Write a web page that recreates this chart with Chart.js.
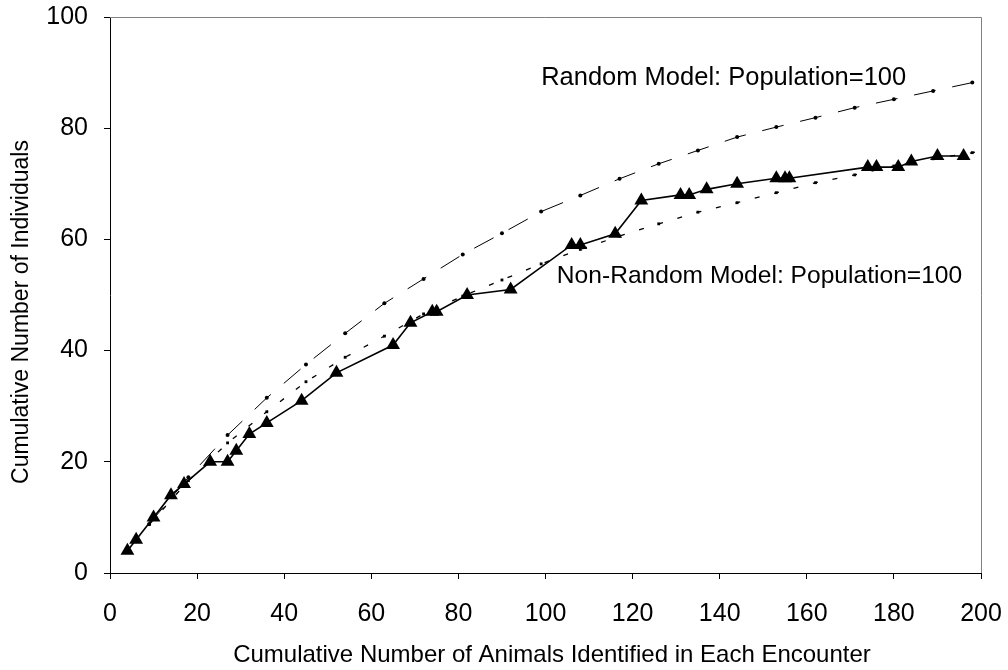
<!DOCTYPE html>
<html>
<head>
<meta charset="utf-8">
<script src="https://cdn.jsdelivr.net/npm/chart.js@4"></script>
<style>
	html, body { margin: 0; padding: 0; background: #fff; }
	#wrap { width: 1008px; height: 670px; }
</style>
</head>
<body>
<div id="wrap"><canvas id="chart"></canvas></div>
<script>
// observed encounters (triangles)
const observedX = [4, 6, 10, 14, 17, 23, 27, 29, 32, 36, 44, 52, 65, 69, 74, 75, 82, 92, 106, 108, 116, 122, 131, 133, 137, 144, 153, 155, 156, 174, 176, 181, 184, 190, 196];
const observedY = [4, 6, 10, 14, 16, 20, 20, 22, 25, 27, 31, 36, 41, 45, 47, 47, 50, 51, 59, 59, 61, 67, 68, 68, 69, 70, 71, 71, 71, 73, 73, 73, 74, 75, 75];

// model curves
const modelX = [9, 18, 27, 36, 45, 54, 63, 72, 81, 90, 99, 108, 117, 126, 135, 144, 153, 162, 171, 180, 189, 198, 207];
const randomY = [8.8, 17.2, 24.8, 31.5, 37.5, 43.1, 48.5, 52.9, 57.3, 61.1, 65.0, 67.9, 70.9, 73.6, 76.0, 78.4, 80.2, 81.9, 83.7, 85.2, 86.7, 88.2, 89.5];
const nonRandomY = [8.7, 16.6, 23.4, 29.0, 34.4, 38.8, 42.6, 46.6, 49.8, 52.7, 55.6, 58.2, 60.6, 62.8, 64.9, 66.6, 68.4, 70.2, 71.6, 73.2, 74.5, 75.6, 76.7];

const xTicks = [0, 20, 40, 60, 80, 100, 120, 140, 160, 180, 200];
const yTicks = [0, 20, 40, 60, 80, 100];

const modelNames = ['Random Model: Population=100', 'Non-Random Model: Population=100'];
const xTitle = 'Cumulative Number of Animals Identified in Each Encounter';
const yTitle = 'Cumulative Number of Individuals';

const FONT = 'Arial, "Liberation Sans", sans-serif';

const toPoints = (xs, ys) => xs.map((x, i) => ({ x: x, y: ys[i] }));

const frame = {
	id: 'frame',
	beforeDatasetsDraw(chart) {
		const { ctx, chartArea: a } = chart;
		ctx.save();
		ctx.strokeStyle = '#808080';
		ctx.lineWidth = 1;
		ctx.beginPath();
		ctx.moveTo(a.left, a.top + 0.5);
		ctx.lineTo(a.right + 0.5, a.top + 0.5);
		ctx.lineTo(a.right + 0.5, a.bottom);
		ctx.stroke();
		ctx.restore();
	},
	afterDatasetsDraw(chart) {
		const { ctx, scales } = chart;
		ctx.save();
		ctx.fillStyle = '#000';
		ctx.textAlign = 'left';
		ctx.textBaseline = 'middle';

		// curve labels
		ctx.font = '25.5px ' + FONT;
		ctx.fillText(modelNames[0], scales.x.getPixelForValue(99), scales.y.getPixelForValue(89));
		ctx.font = '24.6px ' + FONT;
		ctx.fillText(modelNames[1], scales.x.getPixelForValue(102.6), scales.y.getPixelForValue(53.3));

		// axis titles
		ctx.textAlign = 'center';
		ctx.font = '24px ' + FONT;
		ctx.fillText(xTitle, 552, 655);
		ctx.translate(22, 312);
		ctx.rotate(-Math.PI / 2);
		ctx.font = '23px ' + FONT;
		ctx.fillText(yTitle, 0, 0);
		ctx.restore();
	}
};

new Chart(document.getElementById('chart'), {
	type: 'scatter',
	data: {
		datasets: [
			{
				label: 'Observed',
				data: toPoints(observedX, observedY),
				showLine: true,
				borderColor: '#000',
				backgroundColor: '#000',
				borderWidth: 1.6,
				pointStyle: 'triangle',
				pointRadius: 8,
				pointBorderWidth: 0,
			},
			{
				label: 'Random Model',
				data: toPoints(modelX, randomY),
				showLine: true,
				borderColor: '#000',
				backgroundColor: '#000',
				borderWidth: 1,
				borderDash: [22, 17],
				pointStyle: 'circle',
				pointRadius: 2,
				pointBorderWidth: 0,
			},
			{
				label: 'Non-Random Model',
				data: toPoints(modelX, nonRandomY),
				showLine: true,
				borderColor: '#000',
				backgroundColor: '#000',
				borderWidth: 1.3,
				borderDash: [5, 15],
				pointStyle: 'rect',
				pointRadius: 2,
				pointBorderWidth: 0,
			},
		]
	},
	options: {
		responsive: true,
		maintainAspectRatio: false,
		animation: false,
		layout: {
			autoPadding: false,
			padding: { top: 17, right: 27, bottom: 0, left: 0 },
		},
		plugins: {
			legend: { display: false },
			tooltip: { enabled: false },
		},
		scales: {
			x: {
				type: 'linear',
				min: 0,
				max: 200,
				afterBuildTicks: (s) => { s.ticks = xTicks.map((v) => ({ value: v })); },
				afterFit: (s) => { s.height = 97; s.paddingLeft = 0; s.paddingRight = 0; },
				grid: { drawOnChartArea: false, color: '#000', tickLength: 6 },
				border: { color: '#000', width: 1 },
				ticks: { color: '#000', font: { family: FONT, size: 25 }, padding: 20, maxRotation: 0 },
			},
			y: {
				type: 'linear',
				min: 0,
				max: 100,
				afterBuildTicks: (s) => { s.ticks = yTicks.map((v) => ({ value: v })); },
				afterFit: (s) => { s.width = 110; s.paddingTop = 0; s.paddingBottom = 0; },
				grid: { drawOnChartArea: false, color: '#000', tickLength: 6 },
				border: { color: '#000', width: 1 },
				ticks: { color: '#000', font: { family: FONT, size: 25 }, padding: 16 },
			},
		},
	},
	plugins: [frame],
});
</script>
</body>
</html>
